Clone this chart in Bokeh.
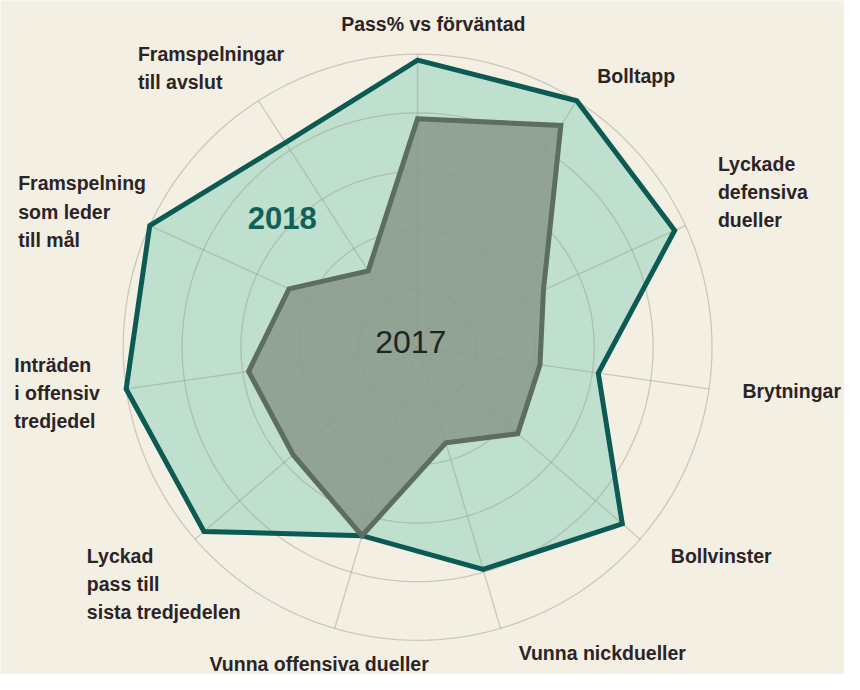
import math
from bokeh.plotting import figure
from bokeh.models import Range1d
from bokeh.core.properties import value
from bokeh.embed import file_html
from bokeh.resources import INLINE

# ---- data ----
categories = [
    "Pass% vs förväntad",
    "Bolltapp",
    "Lyckade\ndefensiva\ndueller",
    "Brytningar",
    "Bollvinster",
    "Vunna nickdueller",
    "Vunna offensiva dueller",
    "Lyckad\npass till\nsista tredjedelen",
    "Inträden\ni offensiv\ntredjedel",
    "Framspelning\nsom leder\ntill mål",
    "Framspelningar\ntill avslut",
]
values_2018 = [4.9, 5.0, 4.8, 3.1, 4.6, 3.95, 3.35, 4.8, 5.0, 5.0, 4.15]
values_2017 = [3.9, 4.5, 2.35, 2.1, 2.25, 1.7, 3.35, 2.8, 2.9, 2.4, 1.55]
ring_levels = [1, 2, 3, 4, 5]
series_names = ["2018", "2017"]

# ---- layout / style ----
W, H = 844, 674
CX, CY = 425, 355          # centre (reference pixel coords)
R = 300                    # radius of outer ring
VMAX = 5
FONT = "Liberation Sans"
BG = "#f4efe3"

# label anchors in reference pixel coords
label_pos = [
    (441, 24, "center", "middle"),
    (608, 66, "left", "top"),
    (731, 156, "left", "top"),
    (756, 389, "left", "top"),
    (683, 557, "left", "top"),
    (528, 657, "left", "top"),
    (213, 668, "left", "top"),
    (88, 557, "left", "top"),
    (14, 362, "left", "top"),
    (18, 176, "left", "top"),
    (140, 43, "left", "top"),
]

n = len(categories)
angles = [math.pi / 2 - i * 2 * math.pi / n for i in range(n)]


def polar(v, a):
    r = v / VMAX * R
    return CX + r * math.cos(a), CY - r * math.sin(a)


p = figure(width=W, height=H, output_backend="svg", toolbar_location=None,
           x_range=Range1d(0, 860), y_range=Range1d(690, 0),
           min_border=0, background_fill_color=BG, border_fill_color=BG,
           outline_line_color=None)
p.axis.visible = False
p.grid.visible = False

# series polygons
xs18, ys18 = zip(*[polar(v, a) for v, a in zip(values_2018, angles)])
xs17, ys17 = zip(*[polar(v, a) for v, a in zip(values_2017, angles)])

p.patch(list(xs18), list(ys18), fill_color="#bfe0ce", fill_alpha=1.0,
        line_color=None)
p.patch(list(xs17), list(ys17), fill_color="#90a394", fill_alpha=1.0,
        line_color=None)

# grid rings and spokes on top of fills
ring_x, ring_y = [], []
for lv in ring_levels:
    pts = [polar(lv, 2 * math.pi * k / 180) for k in range(181)]
    ring_x.append([q[0] for q in pts])
    ring_y.append([q[1] for q in pts])
p.multi_line(ring_x, ring_y, line_color="#9a988a", line_alpha=0.45, line_width=1.3)

spoke_x, spoke_y = [], []
for a in angles:
    x1, y1 = polar(VMAX, a)
    spoke_x.append([CX, x1])
    spoke_y.append([CY, y1])
p.multi_line(spoke_x, spoke_y, line_color="#9a988a", line_alpha=0.45, line_width=1.3)

# outlines
p.patch(list(xs18), list(ys18), fill_alpha=0, line_color="#0c5a54", line_width=5,
        line_join="miter")
p.patch(list(xs17), list(ys17), fill_alpha=0, line_color="#5d6d61", line_width=5,
        line_join="miter")

# category labels
for lab, (lx, ly, al, bl) in zip(categories, label_pos):
    p.text([lx], [ly], text=[lab], text_font=value(FONT), text_font_style="bold",
           text_font_size="19.5px", text_color="#2b2427", text_align=al,
           text_baseline=bl, text_line_height=1.28)

# series labels
p.text([287], [223], text=[series_names[0]], text_font=value(FONT),
       text_font_style="bold", text_font_size="31px", text_color="#12605a",
       text_align="center", text_baseline="middle")
p.text([418], [350], text=[series_names[1]], text_font=value(FONT),
       text_font_size="32px", text_color="#1f2422",
       text_align="center", text_baseline="middle")

open("out.html", "w").write(file_html(p, INLINE))
